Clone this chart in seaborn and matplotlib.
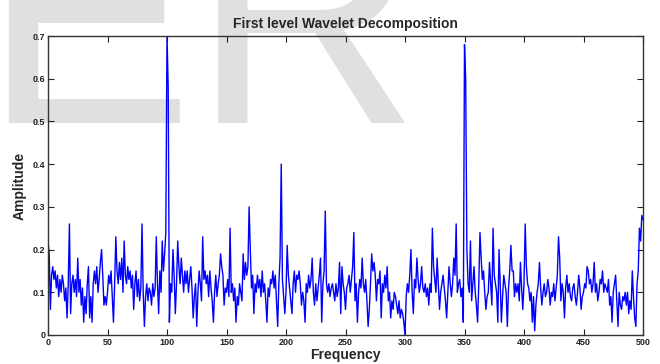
import numpy as np
import pandas as pd
import matplotlib
matplotlib.use("Agg")
import matplotlib.pyplot as plt
import seaborn as sns

title = "First level Wavelet Decomposition"
x_label = "Frequency"
y_label = "Amplitude"
x_ticks = [0, 50, 100, 150, 200, 250, 300, 350, 400, 450, 500]
y_ticks = [0, 0.1, 0.2, 0.3, 0.4, 0.5, 0.6, 0.7]
y_tick_labels = ["0", "0.1", "0.2", "0.3", "0.4", "0.5", "0.6", "0.7"]

# amplitude read at each frequency 0..500
amplitude = [
    0.22, 0.19, 0.06, 0.14, 0.16, 0.13, 0.15, 0.11, 0.14, 0.09,
    0.13, 0.10, 0.14, 0.12, 0.08, 0.11, 0.04, 0.12, 0.26, 0.05,
    0.12, 0.14, 0.10, 0.13, 0.09, 0.18, 0.10, 0.13, 0.07, 0.11,
    0.03, 0.09, 0.05, 0.12, 0.16, 0.04, 0.09, 0.03, 0.12, 0.15,
    0.12, 0.16, 0.10, 0.13, 0.17, 0.20, 0.14, 0.07, 0.09, 0.07,
    0.10, 0.14, 0.12, 0.15, 0.09, 0.03, 0.12, 0.23, 0.15, 0.12,
    0.17, 0.13, 0.18, 0.10, 0.22, 0.14, 0.12, 0.16, 0.13, 0.15,
    0.11, 0.14, 0.06, 0.12, 0.15, 0.09, 0.13, 0.08, 0.11, 0.26,
    0.10, 0.02, 0.09, 0.12, 0.08, 0.11, 0.10, 0.07, 0.12, 0.09,
    0.11, 0.23, 0.12, 0.05, 0.15, 0.10, 0.22, 0.15, 0.19, 0.24,
    0.70, 0.58, 0.03, 0.12, 0.10, 0.20, 0.14, 0.05, 0.12, 0.22,
    0.16, 0.12, 0.18, 0.14, 0.10, 0.15, 0.12, 0.15, 0.10, 0.13,
    0.16, 0.11, 0.04, 0.09, 0.12, 0.02, 0.10, 0.15, 0.12, 0.08,
    0.23, 0.13, 0.15, 0.12, 0.14, 0.09, 0.15, 0.11, 0.08, 0.03,
    0.10, 0.14, 0.09, 0.12, 0.14, 0.19, 0.16, 0.14, 0.07, 0.11,
    0.10, 0.13, 0.09, 0.25, 0.10, 0.12, 0.08, 0.11, 0.03, 0.09,
    0.07, 0.12, 0.10, 0.08, 0.19, 0.13, 0.17, 0.14, 0.16, 0.30,
    0.20, 0.11, 0.14, 0.05, 0.12, 0.10, 0.14, 0.11, 0.13, 0.09,
    0.15, 0.10, 0.12, 0.08, 0.03, 0.11, 0.09, 0.13, 0.12, 0.15,
    0.11, 0.14, 0.08, 0.02, 0.12, 0.18, 0.40, 0.13, 0.09, 0.05,
    0.10, 0.21, 0.14, 0.11, 0.08, 0.05, 0.12, 0.15, 0.10, 0.14,
    0.13, 0.15, 0.12, 0.07, 0.10, 0.08, 0.03, 0.12, 0.10, 0.14,
    0.11, 0.13, 0.18, 0.10, 0.07, 0.12, 0.08, 0.11, 0.14, 0.18,
    0.03, 0.12, 0.15, 0.29, 0.12, 0.10, 0.12, 0.09, 0.11, 0.12,
    0.10, 0.08, 0.12, 0.09, 0.11, 0.17, 0.05, 0.16, 0.12, 0.10,
    0.06, 0.11, 0.12, 0.14, 0.10, 0.13, 0.16, 0.24, 0.08, 0.12,
    0.03, 0.10, 0.13, 0.11, 0.18, 0.12, 0.10, 0.13, 0.08, 0.02,
    0.06, 0.12, 0.19, 0.15, 0.17, 0.14, 0.08, 0.13, 0.12, 0.15,
    0.04, 0.12, 0.10, 0.14, 0.11, 0.16, 0.08, 0.10, 0.04, 0.08,
    0.06, 0.10, 0.09, 0.07, 0.05, 0.08, 0.04, 0.06, 0.05, 0.03,
    0.00, 0.09, 0.12, 0.10, 0.14, 0.20, 0.10, 0.05, 0.13, 0.11,
    0.18, 0.13, 0.10, 0.12, 0.16, 0.11, 0.10, 0.12, 0.09, 0.11,
    0.07, 0.12, 0.10, 0.25, 0.16, 0.13, 0.10, 0.18, 0.12, 0.06,
    0.10, 0.12, 0.14, 0.11, 0.08, 0.04, 0.10, 0.16, 0.12, 0.09,
    0.12, 0.18, 0.14, 0.26, 0.10, 0.12, 0.13, 0.09, 0.11, 0.03,
    0.68, 0.60, 0.20, 0.12, 0.10, 0.22, 0.08, 0.12, 0.16, 0.10,
    0.07, 0.03, 0.12, 0.24, 0.18, 0.13, 0.15, 0.10, 0.06, 0.09,
    0.10, 0.17, 0.12, 0.07, 0.25, 0.14, 0.12, 0.10, 0.03, 0.20,
    0.12, 0.03, 0.09, 0.14, 0.12, 0.10, 0.02, 0.11, 0.15, 0.21,
    0.15, 0.15, 0.09, 0.12, 0.10, 0.12, 0.08, 0.17, 0.11, 0.06,
    0.12, 0.26, 0.16, 0.12, 0.11, 0.08, 0.10, 0.03, 0.09, 0.01,
    0.07, 0.10, 0.12, 0.17, 0.11, 0.07, 0.10, 0.12, 0.09, 0.10,
    0.13, 0.11, 0.07, 0.10, 0.09, 0.12, 0.08, 0.11, 0.14, 0.23,
    0.18, 0.08, 0.12, 0.10, 0.04, 0.11, 0.14, 0.10, 0.12, 0.09,
    0.08, 0.11, 0.12, 0.09, 0.07, 0.10, 0.14, 0.11, 0.06, 0.09,
    0.10, 0.12, 0.11, 0.16, 0.15, 0.12, 0.13, 0.10, 0.12, 0.17,
    0.10, 0.12, 0.08, 0.10, 0.13, 0.12, 0.15, 0.10, 0.12, 0.11,
    0.10, 0.13, 0.07, 0.09, 0.03, 0.10, 0.12, 0.14, 0.08, 0.02,
    0.10, 0.07, 0.06, 0.09, 0.08, 0.10, 0.07, 0.10, 0.05, 0.08,
    0.06, 0.15, 0.09, 0.04, 0.02, 0.12, 0.15, 0.25, 0.22, 0.28,
    0.27,
]
frequency = list(range(len(amplitude)))

df = pd.DataFrame({"Frequency": frequency, "Amplitude": amplitude})

sns.set_theme(style="white")
plt.rcParams["font.family"] = ["Liberation Sans", "DejaVu Sans"]

fig = plt.figure(figsize=(6.6, 3.64), dpi=100)
fig.patch.set_facecolor("white")

# watermark
fig.text(-0.027, 1.291, "ER", fontsize=227, fontweight="normal", color="#e0e0e0",
         ha="left", va="top", zorder=0, family="Liberation Sans")

ax = fig.add_axes([48/660, 1-335/364, (643-48)/660, (335-36)/364])
ax.set_facecolor("none")
ax.set_zorder(1)

sns.lineplot(data=df, x="Frequency", y="Amplitude", ax=ax, color="#0000ff",
             linewidth=1.0, estimator=None)

ax.set_xlim(0, 500)
ax.set_ylim(0, 0.7)
ax.set_xticks(x_ticks)
ax.set_xticklabels([str(t) for t in x_ticks], fontsize=6.5, fontweight="bold")
ax.set_yticks(y_ticks)
ax.set_yticklabels(y_tick_labels, fontsize=6.5, fontweight="bold")
ax.tick_params(direction="in", length=4, width=0.8, top=True, right=True,
               bottom=True, left=True, pad=2, colors="#222222")
for s in ax.spines.values():
    s.set_visible(True)
    s.set_color("#333333")
    s.set_linewidth(1.0)

ax.set_title(title, fontsize=10, fontweight="bold", pad=6)
ax.set_xlabel(x_label, fontsize=10, fontweight="bold", labelpad=1)
ax.set_ylabel(y_label, fontsize=10, fontweight="bold", labelpad=4)

fig.savefig("out.png", dpi=100)
